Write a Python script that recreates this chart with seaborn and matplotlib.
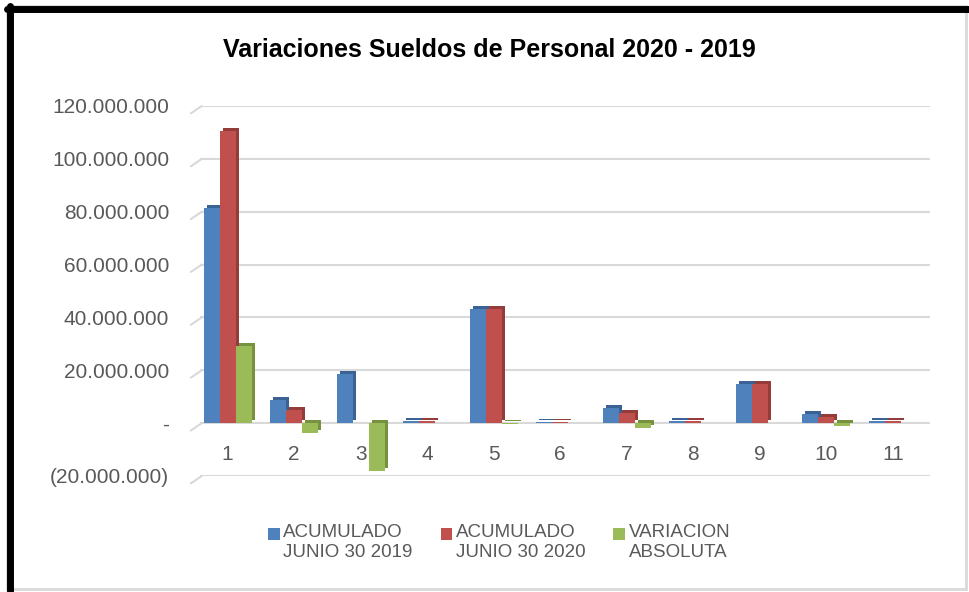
import numpy as np
import pandas as pd
import matplotlib
matplotlib.use("Agg")
import matplotlib.pyplot as plt
import matplotlib.transforms as mtransforms
import matplotlib.patches as mpatches
from matplotlib.legend_handler import HandlerPatch
import seaborn as sns

# ===============================
# Data
# ===============================
categorias = ["1", "2", "3", "4", "5", "6", "7", "8", "9", "10", "11"]
acum_2019 = [81.5e6, 8.7e6, 18.5e6, 0.8e6, 43.2e6, 0.3e6, 5.8e6, 0.8e6, 14.8e6, 3.5e6, 0.7e6]
acum_2020 = [110.6e6, 4.9e6, 0.2e6, 0.9e6, 43.0e6, 0.3e6, 3.8e6, 0.9e6, 14.8e6, 2.3e6, 0.7e6]
variacion = [29.1e6, -3.8e6, -18.3e6, 0.1e6, -0.2e6, 0.0, -2.0e6, 0.1e6, 0.0, -1.2e6, 0.0]

series = ["ACUMULADO\nJUNIO 30 2019", "ACUMULADO\nJUNIO 30 2020", "VARIACION\nABSOLUTA"]
colores = ["#4F81BD", "#C0504D", "#9BBB59"]
lados = ["#3A6295", "#953B39", "#76923F"]

y_ticks = [-20e6, 0, 20e6, 40e6, 60e6, 80e6, 100e6, 120e6]

df = pd.DataFrame({
    "cat": categorias * 3,
    "serie": [series[0]] * 11 + [series[1]] * 11 + [series[2]] * 11,
    "valor": acum_2019 + acum_2020 + variacion,
})

# ===============================
# Plot
# ===============================
sns.set_style("white")
plt.rcParams["font.family"] = ["Liberation Sans", "DejaVu Sans"]

fig = plt.figure(figsize=(9.69, 5.92), dpi=100)
ax = fig.add_axes([0.206, 0.196, 0.754, 0.625])

sns.barplot(data=df, x="cat", y="valor", hue="serie", hue_order=series,
            palette=colores, width=0.72, saturation=1, linewidth=0, ax=ax, legend=False)

# fake 3d depth: darker copy shifted behind each bar
shift = mtransforms.ScaledTranslation(3 / 100, 3 / 100, fig.dpi_scale_trans)
for i, p in enumerate(list(ax.patches)[:33]):
    k = i // 11
    p.set_linewidth(0)
    p.set_zorder(2)
    sombra = mpatches.Rectangle(p.get_xy(), p.get_width(), p.get_height(),
                                facecolor=lados[k], edgecolor="none",
                                transform=ax.transData + shift, zorder=1.5)
    ax.add_patch(sombra)

ax.set_ylim(-20e6, 120e6)
ax.set_yticks(y_ticks)

def fmt(v):
    if v == 0:
        return "-"
    s = f"{abs(int(v)):,}".replace(",", ".")
    return f"({s})" if v < 0 else s

ax.set_yticklabels([fmt(v) for v in y_ticks], fontsize=15, color="#595959")
ax.tick_params(axis="y", length=0, pad=22)
ax.tick_params(axis="x", length=0, pad=16, labelsize=15, labelcolor="#595959")

ax.yaxis.grid(True, color="#D9D9D9", linewidth=1.5)
ax.set_axisbelow(True)
for s in ax.spines.values():
    s.set_visible(False)
ax.spines["bottom"].set_position(("data", 0))
ax.set_xlabel("")
ax.set_ylabel("")
ax.set_xlim(-0.42, 10.56)

# little slanted stubs at the left end of each gridline (3d floor look)
for v in y_ticks:
    ax.plot([-0.012, 0.003], [v - 2.8e6, v], color="#D9D9D9", linewidth=1.5,
            transform=ax.get_yaxis_transform(), clip_on=False, zorder=0.5)

ax.set_title("Variaciones Sueldos de Personal 2020 - 2019", fontsize=18,
             fontweight="bold", color="black", x=0.397, y=1.11)

# legend squares sit next to the first text line
def cuadro(legend, orig_handle, xdescent, ydescent, width, height, fontsize):
    s = 0.62 * fontsize
    return mpatches.Rectangle((-xdescent, -ydescent + height - s * 1.1), s, s)

handles = [mpatches.Rectangle((0, 0), 1, 1, facecolor=c, edgecolor="none") for c in colores]
ax.legend(handles, series, loc="upper center", bbox_to_anchor=(0.41, -0.085),
          ncol=3, frameon=False, fontsize=13.5, labelcolor="#595959",
          handlelength=0.65, handleheight=2.3, handletextpad=0.15,
          columnspacing=1.5,
          handler_map={mpatches.Rectangle: HandlerPatch(patch_func=cuadro)})

# chart frame
fig.patches.append(mpatches.Rectangle((0.007, 0.005), 0.99, 0.985, transform=fig.transFigure,
                                      fill=False, edgecolor="#D9D9D9", linewidth=2))
fig.add_artist(plt.Line2D([0.01, 0.01], [0.0, 0.99], color="black", linewidth=5,
                          transform=fig.transFigure))
fig.add_artist(plt.Line2D([0.007, 1.0], [0.985, 0.985], color="black", linewidth=5,
                          transform=fig.transFigure))

fig.savefig("out.png", dpi=100)
